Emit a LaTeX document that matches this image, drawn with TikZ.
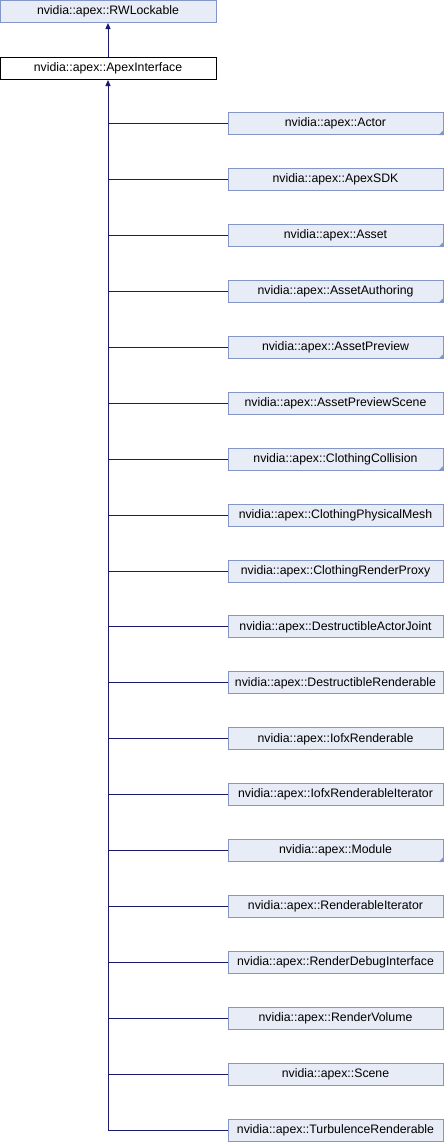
\documentclass[tikz,border=0pt]{standalone}
\usepackage{fontspec}
\setmainfont{Liberation Sans}
\usetikzlibrary{arrows.meta, positioning}
\definecolor{boxfill}{HTML}{E8ECF6}
\definecolor{boxline}{HTML}{8496C8}
\definecolor{edgeblue}{HTML}{191970}

\begin{document}
\begin{tikzpicture}[x=1pt, y=-1pt,
  cls/.style={draw=boxline, fill=boxfill, line width=1pt, minimum width=215pt,
    minimum height=22pt, inner sep=0pt, font=\fontsize{12.3}{14}\selectfont},
  edge/.style={draw=edgeblue, line width=1pt},
  tip/.style={-{Triangle[length=6pt, width=5pt]}}]
  \useasboundingbox (0,0) rectangle (444,1144);
  % base classes
  \node[cls, minimum width=216pt] (rw) at (108,11.5) {nvidia::apex::RWLockable};
  \node[cls, draw=black, fill=white, minimum width=216pt] (iface) at (108,68.5) {nvidia::apex::ApexInterface};
  \draw[edge, tip] (iface.north) -- (rw.south);
  % derived classes
  \foreach \n/\name/\more [count=\i from 0] in {
      actor/Actor/1, sdk/ApexSDK/0, asset/Asset/1, authoring/AssetAuthoring/1,
      preview/AssetPreview/1, previewscene/AssetPreviewScene/0,
      collision/ClothingCollision/1, physmesh/ClothingPhysicalMesh/0,
      proxy/ClothingRenderProxy/0, joint/DestructibleActorJoint/0,
      destr/DestructibleRenderable/0, iofx/IofxRenderable/0,
      iofxiter/IofxRenderableIterator/0, module/Module/1,
      renditer/RenderableIterator/0, debug/RenderDebugInterface/0,
      volume/RenderVolume/0, scene/Scene/0, turb/TurbulenceRenderable/0} {
    \node[cls] (\n) at (335.5,123.5+55.94*\i) {nvidia::apex::\name};
    \ifnum\more=1
      \fill[boxline] (\n.south east) -- ++(-5,0) -- ++(5,-5) -- cycle;
    \fi
    \draw[edge] (\n.west) -- (\n.west -| iface.south);
  }
  \draw[edge, tip] (turb.west -| iface.south) -- (iface.south);
\end{tikzpicture}
\end{document}
